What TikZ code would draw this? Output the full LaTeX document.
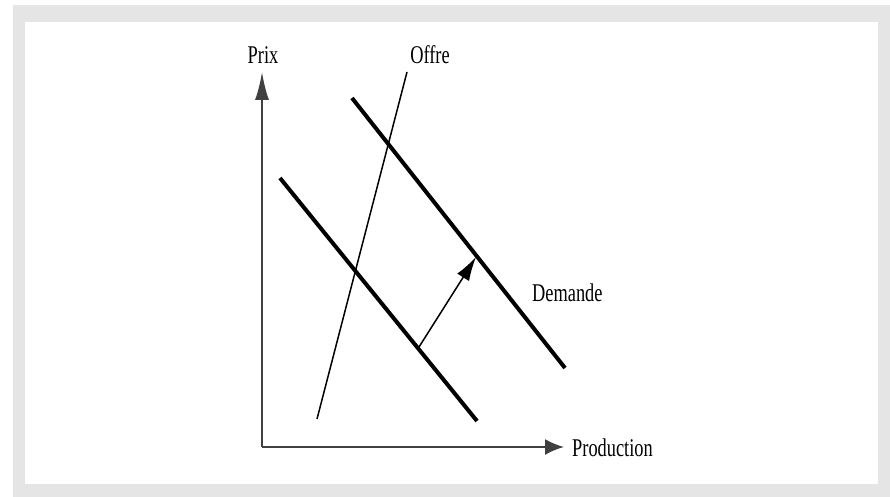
\documentclass[tikz,border=0pt]{standalone}
\usepackage{fontspec}
\usepackage{graphicx}
\setmainfont{Liberation Serif}
\usetikzlibrary{arrows.meta, positioning}

\newcommand{\narrow}[1]{\scalebox{0.72}[1]{#1}}

\begin{document}
\begin{tikzpicture}[x=1pt, y=-1pt,
    axis/.style={line width=2pt, draw=black!75},
    curve/.style={line width=4pt, black},
    lbl/.style={inner sep=0pt, font=\fontsize{25.5}{25.5}\selectfont}]
    \useasboundingbox (0,0) rectangle (890,497);

    % Frame
    \fill[black!10] (13,5) rectangle (890,497);
    \fill[white] (25,22) rectangle (878,484);

    % Axes
    \coordinate (O) at (262,447);
    \coordinate (ytop) at (262,72);
    \coordinate (xend) at (564,447);
    \draw[axis, -{Latex[length=28pt, width=14pt]}] (O) -- (ytop);
    \draw[axis, -{Latex[length=19pt, width=16pt]}] (O) -- (xend);
    \node[lbl] (prix) at (263,55) {\narrow{Prix}};
    \node[lbl, anchor=west] (prod) at (572,448) {\narrow{Production}};

    % Offre
    \coordinate (of1) at (317,419);
    \coordinate (of2) at (407,72);
    \draw[line width=1.5pt] (of1) -- (of2);
    \node[lbl] (offre) at (430,55) {\narrow{Offre}};

    % Demande, before and after
    \coordinate (d1a) at (280,178);
    \coordinate (d1b) at (477,421);
    \coordinate (d2a) at (352,98);
    \coordinate (d2b) at (565,368);
    \draw[curve] (d1a) -- (d1b);
    \draw[curve] (d2a) -- (d2b);
    \node[lbl, anchor=west] (dem) at (532,293) {\narrow{Demande}};

    % Shift
    \coordinate (s1) at (419,347);
    \coordinate (s2) at (476,257);
    \draw[line width=1.5pt, -{Latex[length=24pt, width=14pt]}] (s1) -- (s2);
\end{tikzpicture}
\end{document}
